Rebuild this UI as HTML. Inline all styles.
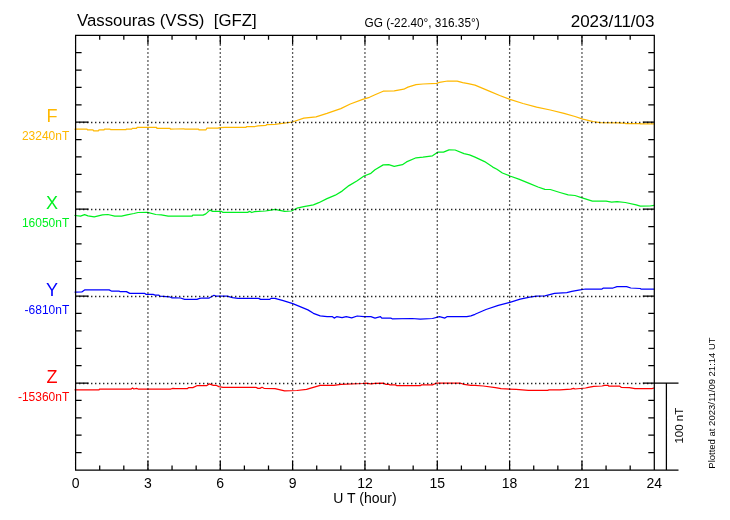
<!DOCTYPE html><html><head><meta charset="utf-8"><style>html,body{margin:0;padding:0;background:#fff;width:730px;height:520px;overflow:hidden}svg{display:block;will-change:transform}text{font-family:"Liberation Sans",sans-serif}</style></head><body>
<svg width="730" height="520" viewBox="0 0 730 520">
<rect x="0" y="0" width="730" height="520" fill="#fff"/>
<g fill="none" stroke-width="1.25" stroke-linejoin="round" stroke-linecap="round">
<polyline stroke="#ffb800" points="75.0,129.2 87.0,129.2 87.5,129.9 93.0,129.9 93.5,130.8 98.5,130.8 99.0,129.9 104.0,129.9 104.5,129.2 110.0,129.2 110.5,129.6 126.0,129.6 126.5,129.0 131.8,129.0 132.3,128.3 136.6,128.3 137.0,127.4 156.5,127.4 157.0,128.4 170.0,128.4 170.5,129.2 175.0,129.0 184.0,128.8 184.5,129.0 198.5,129.0 199.0,129.8 206.0,129.8 207.0,128.1 218.5,128.1 219.0,127.6 225.0,127.4 246.0,127.4 246.5,126.5 255.0,126.5 258.0,125.8 266.0,125.3 266.5,124.6 275.0,124.4 292.4,122.0 303.8,118.2 316.0,116.8 327.0,113.4 340.8,108.6 350.3,104.0 362.7,99.4 369.5,97.3 375.0,94.8 383.2,91.2 394.2,90.8 403.8,89.2 407.9,87.1 416.0,84.7 423.0,84.0 436.6,83.3 439.4,82.3 447.6,81.0 457.2,81.2 462.7,82.7 468.2,83.7 475.0,85.2 488.7,90.8 499.7,95.5 510.0,99.4 523.0,103.5 536.6,107.2 550.3,110.0 564.0,113.4 575.0,116.5 582.8,119.2 585.0,119.6 590.0,120.8 593.0,121.5 600.0,122.6 620.0,122.8 620.5,123.1 625.0,123.1 625.5,123.5 640.0,123.5 640.5,123.9 654.0,123.9"/>
<polyline stroke="#00f020" points="75.0,215.5 80.5,216.2 84.6,214.6 88.0,215.8 94.2,216.9 102.4,214.9 107.9,214.5 114.7,216.2 121.6,216.2 127.0,214.9 133.9,213.5 138.0,212.5 147.6,212.4 155.8,214.5 161.3,214.9 168.2,216.2 175.0,216.0 192.1,216.0 192.8,215.1 203.1,215.1 205.8,213.9 209.9,210.1 212.7,211.4 221.6,211.4 223.0,212.4 247.6,212.4 249.7,211.4 251.7,212.5 254.5,211.7 265.4,211.0 270.9,210.1 275.0,209.4 284.6,211.4 291.4,211.0 296.9,208.2 303.8,206.6 313.4,204.8 318.8,202.7 327.0,198.6 335.3,195.2 342.1,191.1 349.0,185.6 357.2,180.8 364.0,176.0 370.9,173.3 375.0,169.7 383.2,164.9 388.7,164.7 394.2,166.3 402.4,164.7 406.5,161.9 416.1,157.8 423.0,157.1 432.5,155.8 438.0,152.1 443.5,152.1 449.0,149.9 455.1,150.0 464.0,153.7 469.5,154.8 475.0,157.1 484.6,161.6 492.8,167.1 496.9,169.2 502.4,173.0 509.9,176.0 518.8,179.2 529.8,183.6 538.0,187.0 544.9,189.3 550.3,189.5 559.9,192.5 568.2,194.9 575.0,195.5 581.4,197.7 592.4,201.2 606.1,201.2 611.6,202.1 617.1,201.7 625.3,202.5 636.2,204.9 640.3,206.2 649.9,206.0 654.0,205.3"/>
<polyline stroke="#0000ff" points="75.0,292.1 81.8,292.0 84.6,289.9 109.2,289.9 111.3,291.0 118.8,291.0 120.2,291.6 126.4,291.6 129.8,293.4 144.9,293.4 146.2,294.4 153.1,294.4 155.1,295.1 158.6,295.1 160.0,296.2 169.5,296.8 171.6,297.8 175.0,297.8 180.5,298.0 184.6,299.4 196.9,299.4 199.7,298.4 202.4,298.0 209.2,298.0 214.0,295.3 216.1,296.2 227.1,296.2 232.5,297.6 238.0,298.4 258.6,298.4 260.6,299.4 269.5,299.4 270.9,298.4 275.0,298.3 283.2,300.7 292.8,303.7 307.9,309.9 313.4,313.3 320.2,315.8 327.1,316.7 332.5,316.7 334.2,318.1 336.6,316.7 342.1,317.7 346.2,316.7 351.7,317.8 357.2,316.0 364.0,316.7 370.9,316.7 375.0,318.1 380.5,316.7 381.8,318.1 390.8,318.1 392.1,318.8 412.0,318.5 420.2,319.2 432.5,318.5 439.4,316.7 444.9,318.1 446.9,316.7 466.8,316.7 470.9,315.8 475.0,314.3 486.0,309.5 498.3,305.3 509.9,302.3 520.2,299.2 529.8,297.1 536.6,296.2 544.9,295.8 554.5,293.4 566.8,292.6 571.8,291.4 578.7,290.1 585.5,289.0 602.0,289.0 603.4,288.0 613.0,288.0 617.0,286.6 626.6,286.6 630.8,288.0 640.3,288.5 641.0,289.1 654.0,289.1"/>
<polyline stroke="#ff0000" points="75.0,389.8 99.0,389.8 99.7,389.0 131.2,389.0 132.5,388.0 133.9,389.0 136.6,388.4 138.0,389.0 170.9,389.0 172.9,388.3 175.0,388.7 187.3,388.7 188.7,387.6 192.8,387.6 196.9,385.7 206.5,385.7 209.2,383.9 213.4,385.3 216.1,385.3 218.8,386.6 223.0,387.3 255.8,387.3 257.9,388.4 259.9,388.4 262.0,387.3 264.0,388.3 275.0,388.7 284.6,390.8 296.9,390.5 306.5,389.4 320.2,385.3 333.9,385.3 340.8,384.3 362.7,383.5 365.4,383.2 370.9,383.9 375.0,383.3 383.2,383.2 386.0,384.3 388.7,384.3 390.0,384.9 395.5,384.9 396.9,385.7 420.2,385.7 421.6,384.9 432.5,384.9 436.6,383.0 459.9,383.0 464.0,384.3 470.9,385.3 475.0,385.3 483.2,386.0 495.5,387.6 501.0,388.7 516.1,389.4 528.4,390.3 547.6,390.3 549.0,389.8 559.9,389.8 570.9,389.1 573.6,388.4 575.0,389.0 585.5,388.0 588.3,387.3 593.8,386.4 602.0,386.0 604.7,385.3 608.2,385.3 608.8,386.2 619.8,386.2 621.2,387.3 629.4,387.7 634.9,388.7 652.0,388.7 654.0,388.0"/>
</g>
<g stroke="#000" stroke-width="1.3" fill="none" opacity="0.85">
<line x1="147.94" y1="35.25" x2="147.94" y2="470.00" stroke-dasharray="1.3 2.7" stroke-dashoffset="-1.1"/>
<line x1="220.27" y1="35.25" x2="220.27" y2="470.00" stroke-dasharray="1.3 2.7" stroke-dashoffset="-1.1"/>
<line x1="292.61" y1="35.25" x2="292.61" y2="470.00" stroke-dasharray="1.3 2.7" stroke-dashoffset="-1.1"/>
<line x1="364.95" y1="35.25" x2="364.95" y2="470.00" stroke-dasharray="1.3 2.7" stroke-dashoffset="-1.1"/>
<line x1="437.29" y1="35.25" x2="437.29" y2="470.00" stroke-dasharray="1.3 2.7" stroke-dashoffset="-1.1"/>
<line x1="509.62" y1="35.25" x2="509.62" y2="470.00" stroke-dasharray="1.3 2.7" stroke-dashoffset="-1.1"/>
<line x1="581.96" y1="35.25" x2="581.96" y2="470.00" stroke-dasharray="1.3 2.7" stroke-dashoffset="-1.1"/>
<line x1="75.60" y1="122.50" x2="654.30" y2="122.50" stroke-dasharray="1.4 2.6" stroke-dashoffset="0.6"/>
<line x1="75.60" y1="209.50" x2="654.30" y2="209.50" stroke-dasharray="1.4 2.6" stroke-dashoffset="0.6"/>
<line x1="75.60" y1="296.50" x2="654.30" y2="296.50" stroke-dasharray="1.4 2.6" stroke-dashoffset="0.6"/>
<line x1="75.60" y1="383.50" x2="654.30" y2="383.50" stroke-dasharray="1.4 2.6" stroke-dashoffset="0.6"/>
</g>
<path d="M75.60 35.25H654.30V470.00H75.60ZM75.60 35.25h13.0M654.30 35.25h-11.5M75.60 52.64h6.0M654.30 52.64h-6.0M75.60 70.03h6.0M654.30 70.03h-6.0M75.60 87.42h6.0M654.30 87.42h-6.0M75.60 104.81h6.0M654.30 104.81h-6.0M75.60 122.20h13.0M654.30 122.20h-11.5M75.60 139.59h6.0M654.30 139.59h-6.0M75.60 156.98h6.0M654.30 156.98h-6.0M75.60 174.37h6.0M654.30 174.37h-6.0M75.60 191.76h6.0M654.30 191.76h-6.0M75.60 209.15h13.0M654.30 209.15h-11.5M75.60 226.54h6.0M654.30 226.54h-6.0M75.60 243.93h6.0M654.30 243.93h-6.0M75.60 261.32h6.0M654.30 261.32h-6.0M75.60 278.71h6.0M654.30 278.71h-6.0M75.60 296.10h13.0M654.30 296.10h-11.5M75.60 313.49h6.0M654.30 313.49h-6.0M75.60 330.88h6.0M654.30 330.88h-6.0M75.60 348.27h6.0M654.30 348.27h-6.0M75.60 365.66h6.0M654.30 365.66h-6.0M75.60 383.05h13.0M654.30 383.05h-11.5M75.60 400.44h6.0M654.30 400.44h-6.0M75.60 417.83h6.0M654.30 417.83h-6.0M75.60 435.22h6.0M654.30 435.22h-6.0M75.60 452.61h6.0M654.30 452.61h-6.0M75.60 470.00h13.0M654.30 470.00h-11.5M75.60 35.25v9.0M75.60 470.00v-9.0M99.71 35.25v4.5M99.71 470.00v-4.5M123.82 35.25v4.5M123.82 470.00v-4.5M147.94 35.25v9.0M147.94 470.00v-9.0M172.05 35.25v4.5M172.05 470.00v-4.5M196.16 35.25v4.5M196.16 470.00v-4.5M220.27 35.25v9.0M220.27 470.00v-9.0M244.39 35.25v4.5M244.39 470.00v-4.5M268.50 35.25v4.5M268.50 470.00v-4.5M292.61 35.25v9.0M292.61 470.00v-9.0M316.72 35.25v4.5M316.72 470.00v-4.5M340.84 35.25v4.5M340.84 470.00v-4.5M364.95 35.25v9.0M364.95 470.00v-9.0M389.06 35.25v4.5M389.06 470.00v-4.5M413.17 35.25v4.5M413.17 470.00v-4.5M437.29 35.25v9.0M437.29 470.00v-9.0M461.40 35.25v4.5M461.40 470.00v-4.5M485.51 35.25v4.5M485.51 470.00v-4.5M509.62 35.25v9.0M509.62 470.00v-9.0M533.74 35.25v4.5M533.74 470.00v-4.5M557.85 35.25v4.5M557.85 470.00v-4.5M581.96 35.25v9.0M581.96 470.00v-9.0M606.07 35.25v4.5M606.07 470.00v-4.5M630.19 35.25v4.5M630.19 470.00v-4.5M654.30 35.25v9.0M654.30 470.00v-9.0M654.30 383.05H678.5M654.30 470.00H678.5M666.4 383.05V470.00" stroke="#000" stroke-width="1.25" fill="none"/>
<text x="77" y="26.2" font-size="16.8" fill="#000">Vassouras (VSS)&#160; [GFZ]</text>
<text x="364.6" y="27.3" font-size="12.5" textLength="115" lengthAdjust="spacingAndGlyphs" fill="#000">GG (-22.40°, 316.35°)</text>
<text x="654.5" y="26.5" font-size="17" fill="#000" text-anchor="end">2023/11/03</text>
<text x="52" y="121.90" font-size="18" fill="#ffb800" text-anchor="middle">F</text>
<text x="69.3" y="139.80" font-size="12" fill="#ffb800" text-anchor="end">23240nT</text>
<text x="52" y="208.85" font-size="18" fill="#00f020" text-anchor="middle">X</text>
<text x="69.3" y="226.75" font-size="12" fill="#00f020" text-anchor="end">16050nT</text>
<text x="52" y="295.80" font-size="18" fill="#0000ff" text-anchor="middle">Y</text>
<text x="69.3" y="313.70" font-size="12" fill="#0000ff" text-anchor="end">-6810nT</text>
<text x="52" y="382.75" font-size="18" fill="#ff0000" text-anchor="middle">Z</text>
<text x="69.3" y="400.65" font-size="12" fill="#ff0000" text-anchor="end">-15360nT</text>
<text x="75.60" y="488" font-size="14" fill="#000" text-anchor="middle">0</text>
<text x="147.94" y="488" font-size="14" fill="#000" text-anchor="middle">3</text>
<text x="220.27" y="488" font-size="14" fill="#000" text-anchor="middle">6</text>
<text x="292.61" y="488" font-size="14" fill="#000" text-anchor="middle">9</text>
<text x="364.95" y="488" font-size="14" fill="#000" text-anchor="middle">12</text>
<text x="437.29" y="488" font-size="14" fill="#000" text-anchor="middle">15</text>
<text x="509.62" y="488" font-size="14" fill="#000" text-anchor="middle">18</text>
<text x="581.96" y="488" font-size="14" fill="#000" text-anchor="middle">21</text>
<text x="654.30" y="488" font-size="14" fill="#000" text-anchor="middle">24</text>
<text x="365" y="503.4" font-size="14" fill="#000" text-anchor="middle">U T (hour)</text>
<text transform="translate(682.9 425.7) rotate(-90)" font-size="11.5" fill="#000" text-anchor="middle">100 nT</text>
<text transform="translate(715.4 403) rotate(-90)" font-size="9.5" fill="#000" text-anchor="middle">Plotted at 2023/11/09 21:14 UT</text>
</svg></body></html>
